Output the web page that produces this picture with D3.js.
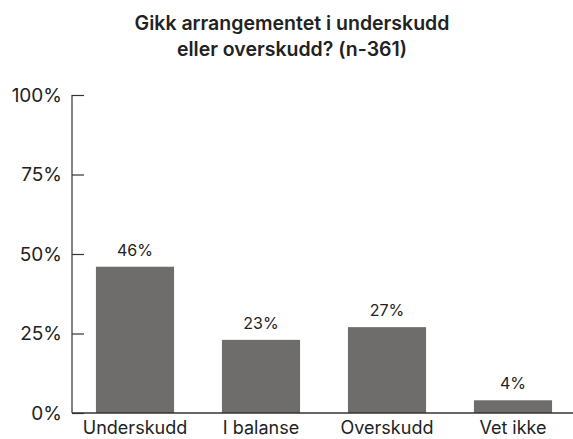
<!DOCTYPE html>
<html>
<head>
<meta charset="utf-8">
<script src="https://cdn.jsdelivr.net/npm/d3@7"></script>
<style>
  body { margin: 0; background: #fff; }
  text { font-family: Inter, "Noto Sans", sans-serif; fill: #222; }
</style>
</head>
<body>
<script>
const categories = ['Underskudd', 'I balanse', 'Overskudd', 'Vet ikke'];
const values = [46, 23, 27, 4];
const yTicks = [0, 25, 50, 75, 100];
const titleLines = ['Gikk arrangementet i underskudd', 'eller overskudd? (n-361)'];

const width = 573, height = 439;
const svg = d3.select('body').append('svg')
  .attr('width', width)
  .attr('height', height);

const x = d3.scaleBand()
  .domain(categories)
  .range([72, 576])
  .paddingInner(0.38)
  .paddingOuter(0.19);

const y = d3.scaleLinear()
  .domain([0, 100])
  .range([413, 95]);

// title
svg.append('g').selectAll('text')
  .data(titleLines)
  .join('text')
  .attr('x', 292)
  .attr('y', (d, i) => 30 + i * 26)
  .attr('text-anchor', 'middle')
  .attr('font-size', 19.5)
  .attr('font-weight', 600)
  .text(d => d);

// bars
svg.selectAll('rect.bar')
  .data(values)
  .join('rect')
  .attr('class', 'bar')
  .attr('x', (d, i) => x(categories[i]))
  .attr('y', d => y(d))
  .attr('width', x.bandwidth())
  .attr('height', d => y(0) - y(d))
  .attr('fill', '#6e6d6b');

// value labels
svg.selectAll('text.val')
  .data(values)
  .join('text')
  .attr('class', 'val')
  .attr('x', (d, i) => x(categories[i]) + x.bandwidth() / 2)
  .attr('y', d => y(d) - 11)
  .attr('text-anchor', 'middle')
  .attr('font-size', 16)
  .text(d => d + '%');

// y axis
const yAxis = svg.append('g')
  .attr('transform', 'translate(72,0)')
  .call(d3.axisRight(y).tickValues(yTicks).tickSize(12).tickFormat(''));
yAxis.select('.domain').remove();
yAxis.selectAll('.tick line').attr('stroke', '#333').attr('stroke-width', 1.2);
svg.append('line')
  .attr('x1', 72).attr('x2', 72)
  .attr('y1', y(100)).attr('y2', y(0))
  .attr('stroke', '#333').attr('stroke-width', 1.2);

svg.append('g').selectAll('text')
  .data(yTicks)
  .join('text')
  .attr('x', 62)
  .attr('y', d => y(d))
  .attr('dy', '0.36em')
  .attr('text-anchor', 'end')
  .attr('font-size', 19)
  .text(d => d + '%');

// x axis baseline + labels
svg.append('line')
  .attr('x1', 72).attr('x2', width)
  .attr('y1', y(0)).attr('y2', y(0))
  .attr('stroke', '#333').attr('stroke-width', 1.5);

const xAxis = svg.append('g')
  .attr('transform', `translate(0,${y(0)})`)
  .call(d3.axisBottom(x).tickSize(0).tickPadding(8));
xAxis.select('.domain').remove();
xAxis.selectAll('text')
  .attr('font-size', 18)
  .attr('font-family', 'Inter, "Noto Sans", sans-serif')
  .attr('fill', '#222');
</script>
</body>
</html>
